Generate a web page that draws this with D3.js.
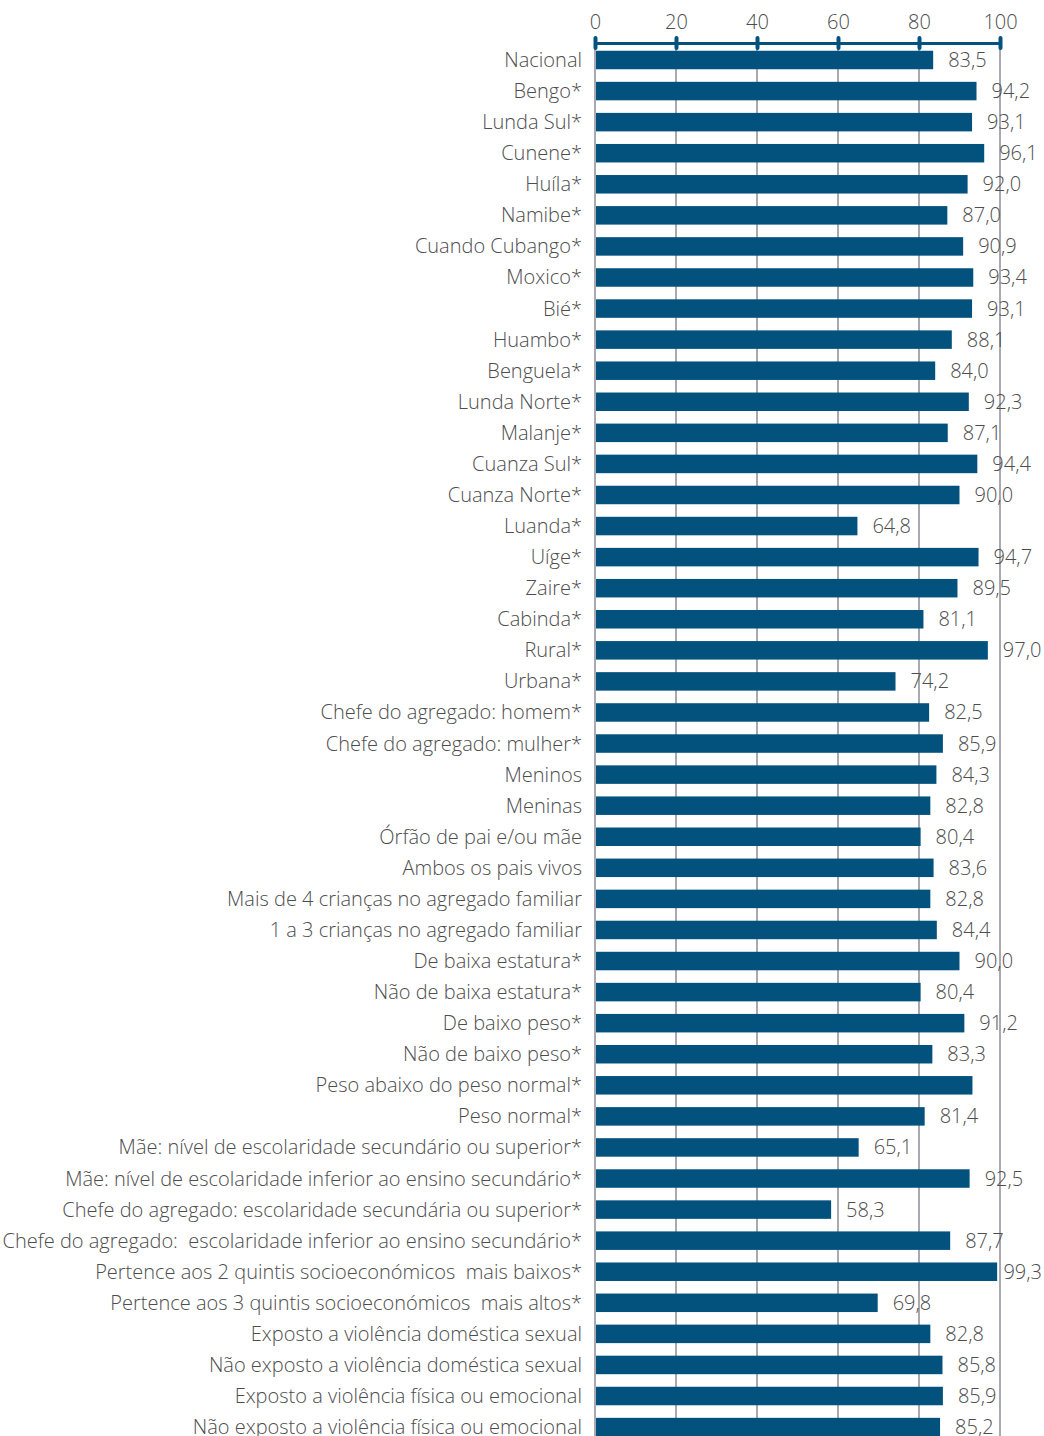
<!DOCTYPE html>
<html>
<head>
<meta charset="utf-8">
<script src="https://cdn.jsdelivr.net/npm/d3@7"></script>
<style>
  html, body { margin: 0; padding: 0; background: #fff; }
  svg { display: block; }
  text { font-family: "Open Sans", "DejaVu Sans", sans-serif; font-weight: 300; }
</style>
</head>
<body>
<div id="chart"></div>
<script>
// Categories, top to bottom
const categories = [
  "Nacional", "Bengo*", "Lunda Sul*", "Cunene*", "Huíla*", "Namibe*",
  "Cuando Cubango*", "Moxico*", "Bié*", "Huambo*", "Benguela*", "Lunda Norte*",
  "Malanje*", "Cuanza Sul*", "Cuanza Norte*", "Luanda*", "Uíge*", "Zaire*",
  "Cabinda*", "Rural*", "Urbana*", "Chefe do agregado: homem*",
  "Chefe do agregado: mulher*", "Meninos", "Meninas", "Órfão de pai e/ou mãe",
  "Ambos os pais vivos", "Mais de 4 crianças no agregado familiar",
  "1 a 3 crianças no agregado familiar", "De baixa estatura*",
  "Não de baixa estatura*", "De baixo peso*", "Não de baixo peso*",
  "Peso abaixo do peso normal*", "Peso normal*",
  "Mãe: nível de escolaridade secundário ou superior*",
  "Mãe: nível de escolaridade inferior ao ensino secundário*",
  "Chefe do agregado: escolaridade secundária ou superior*",
  "Chefe do agregado:  escolaridade inferior ao ensino secundário*",
  "Pertence aos 2 quintis socioeconómicos  mais baixos*",
  "Pertence aos 3 quintis socioeconómicos  mais altos*",
  "Exposto a violência doméstica sexual",
  "Não exposto a violência doméstica sexual",
  "Exposto a violência física ou emocional",
  "Não exposto a violência física ou emocional"
];

// Percentages for each category
const values = [
  83.5, 94.2, 93.1, 96.1, 92.0, 87.0,
  90.9, 93.4, 93.1, 88.1, 84.0, 92.3,
  87.1, 94.4, 90.0, 64.8, 94.7, 89.5,
  81.1, 97.0, 74.2, 82.5,
  85.9, 84.3, 82.8, 80.4,
  83.6, 82.8,
  84.4, 90.0,
  80.4, 91.2, 83.3,
  93.2, 81.4,
  65.1,
  92.5,
  58.3,
  87.7,
  99.3,
  69.8,
  82.8,
  85.8,
  85.9,
  85.2
];

// Whether the value is printed next to the bar
const showLabel = categories.map(c => c !== "Peso abaixo do peso normal*");

const tickValues = [0, 20, 40, 60, 80, 100];

const W = 1044, H = 1436;
const x0 = 595, x1 = 1000;
const axisY = 43;
const firstRow = 60, rowStep = 31.07;
const fontSize = 20;

const data = categories.map((c, i) => ({ cat: c, val: values[i], lab: showLabel[i] }));

const barColor = "#03527e";
const gridColor = "#a9a9b1";
const textColor = "#4d4d4d";

const svg = d3.select("#chart").append("svg")
  .attr("width", W).attr("height", H);

const x = d3.scaleLinear().domain([0, 100]).range([x0, x1]);

const y = d3.scaleBand()
  .domain(categories)
  .range([firstRow - rowStep / 2, firstRow - rowStep / 2 + rowStep * categories.length])
  .paddingInner(0.4)
  .paddingOuter(0.2);

const barH = 18.5;

// Vertical gridlines
svg.append("g").selectAll("line")
  .data(tickValues)
  .join("line")
  .attr("x1", d => x(d)).attr("x2", d => x(d))
  .attr("y1", axisY).attr("y2", H)
  .attr("stroke", gridColor)
  .attr("stroke-width", 2);

// Bars
svg.append("g").selectAll("rect")
  .data(data)
  .join("rect")
  .attr("x", x(0) + 1)
  .attr("y", d => y(d.cat) + (y.bandwidth() - barH) / 2)
  .attr("width", d => x(d.val) - x(0) - 1)
  .attr("height", barH)
  .attr("fill", barColor);

// Value labels (kept inside the right edge)
const fmt = v => d3.format(".1f")(v).replace(".", ",");
svg.append("g").selectAll("text")
  .data(data.filter(d => d.lab))
  .join("text")
  .attr("y", d => y(d.cat) + y.bandwidth() / 2)
  .attr("dy", "0.35em")
  .attr("font-size", fontSize)
  .attr("fill", textColor)
  .text(d => fmt(d.val))
  .attr("x", function (d) {
    const w = this.getComputedTextLength();
    return Math.min(x(d.val) + 15, W - w - 2);
  });

// Category labels
svg.append("g").selectAll("text")
  .data(data)
  .join("text")
  .attr("x", 582)
  .attr("y", d => y(d.cat) + y.bandwidth() / 2)
  .attr("dy", "0.35em")
  .attr("text-anchor", "end")
  .attr("font-size", fontSize)
  .attr("fill", textColor)
  .style("white-space", "pre")
  .text(d => d.cat);

// Top axis
const axis = d3.axisTop(x).tickValues(tickValues).tickSize(0).tickPadding(14);
const ag = svg.append("g").attr("transform", `translate(0,${axisY})`).call(axis);
ag.select(".domain")
  .attr("stroke", barColor)
  .attr("stroke-width", 3);
ag.selectAll(".tick text")
  .attr("font-size", fontSize)
  .attr("fill", textColor)
  .style("font-family", '"Open Sans", "DejaVu Sans", sans-serif')
  .style("font-weight", 300);
ag.selectAll(".tick").append("line")
  .attr("y1", -5).attr("y2", 5)
  .attr("stroke", barColor)
  .attr("stroke-width", 4)
  .attr("stroke-linecap", "round");
</script>
</body>
</html>
